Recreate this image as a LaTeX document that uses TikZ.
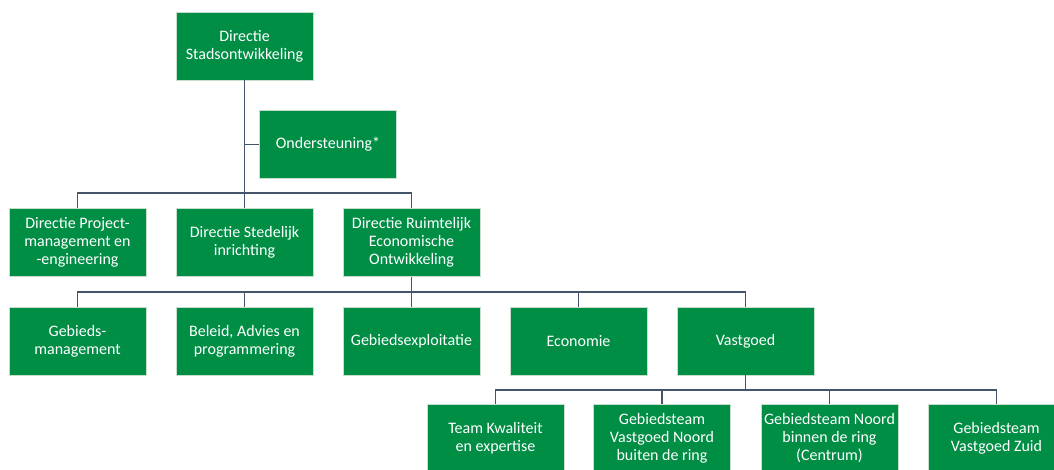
\documentclass[tikz,border=0pt]{standalone}
\usepackage{fontspec}
\setmainfont{Carlito}
\definecolor{orggreen}{RGB}{0,142,69}
\definecolor{orgedge}{RGB}{200,222,205}
\definecolor{orgline}{RGB}{68,84,106}
\tikzset{
  unit/.style={draw=orgedge, line width=0.6pt, fill=orggreen, text=white,
    minimum width=137pt, minimum height=68pt, inner sep=2pt,
    align=center, font=\fontsize{16}{18}\selectfont},
  conn/.style={draw=orgline, line width=1.2pt}
}
\begin{document}
\begin{tikzpicture}[x=1pt, y=-1pt]
\path[use as bounding box, clip] (0,0) rectangle (1054,469);
\fill[white] (0,0) rectangle (1054,469);

% top level and staff unit
\node[unit] (top)   at (244.5,46)  {Directie\\Stadsontwikkeling};
\node[unit] (onder) at (328,144.5) {Ondersteuning*};

% directorates
\node[unit] (pm)  at (77.5,242.5)  {Directie Project-\\management en\\-engineering};
\node[unit] (si)  at (244.5,242.5) {Directie Stedelijk\\inrichting};
\node[unit] (reo) at (411.5,242.5) {Directie Ruimtelijk\\Economische\\Ontwikkeling};

% departments of REO
\node[unit] (gm)  at (77.5,341)  {Gebieds-\\management};
\node[unit] (bap) at (244.5,341) {Beleid, Advies en\\programmering};
\node[unit] (ge)  at (411.5,341) {Gebiedsexploitatie};
\node[unit] (eco) at (578.5,341) {Economie};
\node[unit] (vg)  at (745.5,341) {Vastgoed};

% teams of Vastgoed
\node[unit] (tk)  at (495.5,438) {Team Kwaliteit\\en expertise};
\node[unit] (gvn) at (662,438)   {Gebiedsteam\\Vastgoed Noord\\buiten de ring};
\node[unit] (gnb) at (829.5,438) {Gebiedsteam Noord\\binnen de ring\\(Centrum)};
\node[unit] (gvz) at (996.5,438) {Gebiedsteam\\Vastgoed Zuid};

% bus junctions
\coordinate (b1) at (top.south |- 0,193);
\coordinate (b2) at (reo.south |- 0,292);
\coordinate (b3) at (vg.south |- 0,390);

% connectors
\draw[conn] (top.south) -- (b1);
\draw[conn] (onder.west) -| (top.south);
\draw[conn] (pm.north) |- (b1) -| (reo.north);
\draw[conn] (b1) -- (si.north);

\draw[conn] (reo.south) -- (b2);
\draw[conn] (gm.north) |- (b2) -| (vg.north);
\draw[conn] (bap.north) -- (bap.north |- b2);
\draw[conn] (b2) -- (ge.north);
\draw[conn] (eco.north) -- (eco.north |- b2);

\draw[conn] (vg.south) -- (b3);
\draw[conn] (tk.north) |- (b3) -| (gvz.north);
\draw[conn] (gvn.north) -- (gvn.north |- b3);
\draw[conn] (gnb.north) -- (gnb.north |- b3);
\end{tikzpicture}
\end{document}
